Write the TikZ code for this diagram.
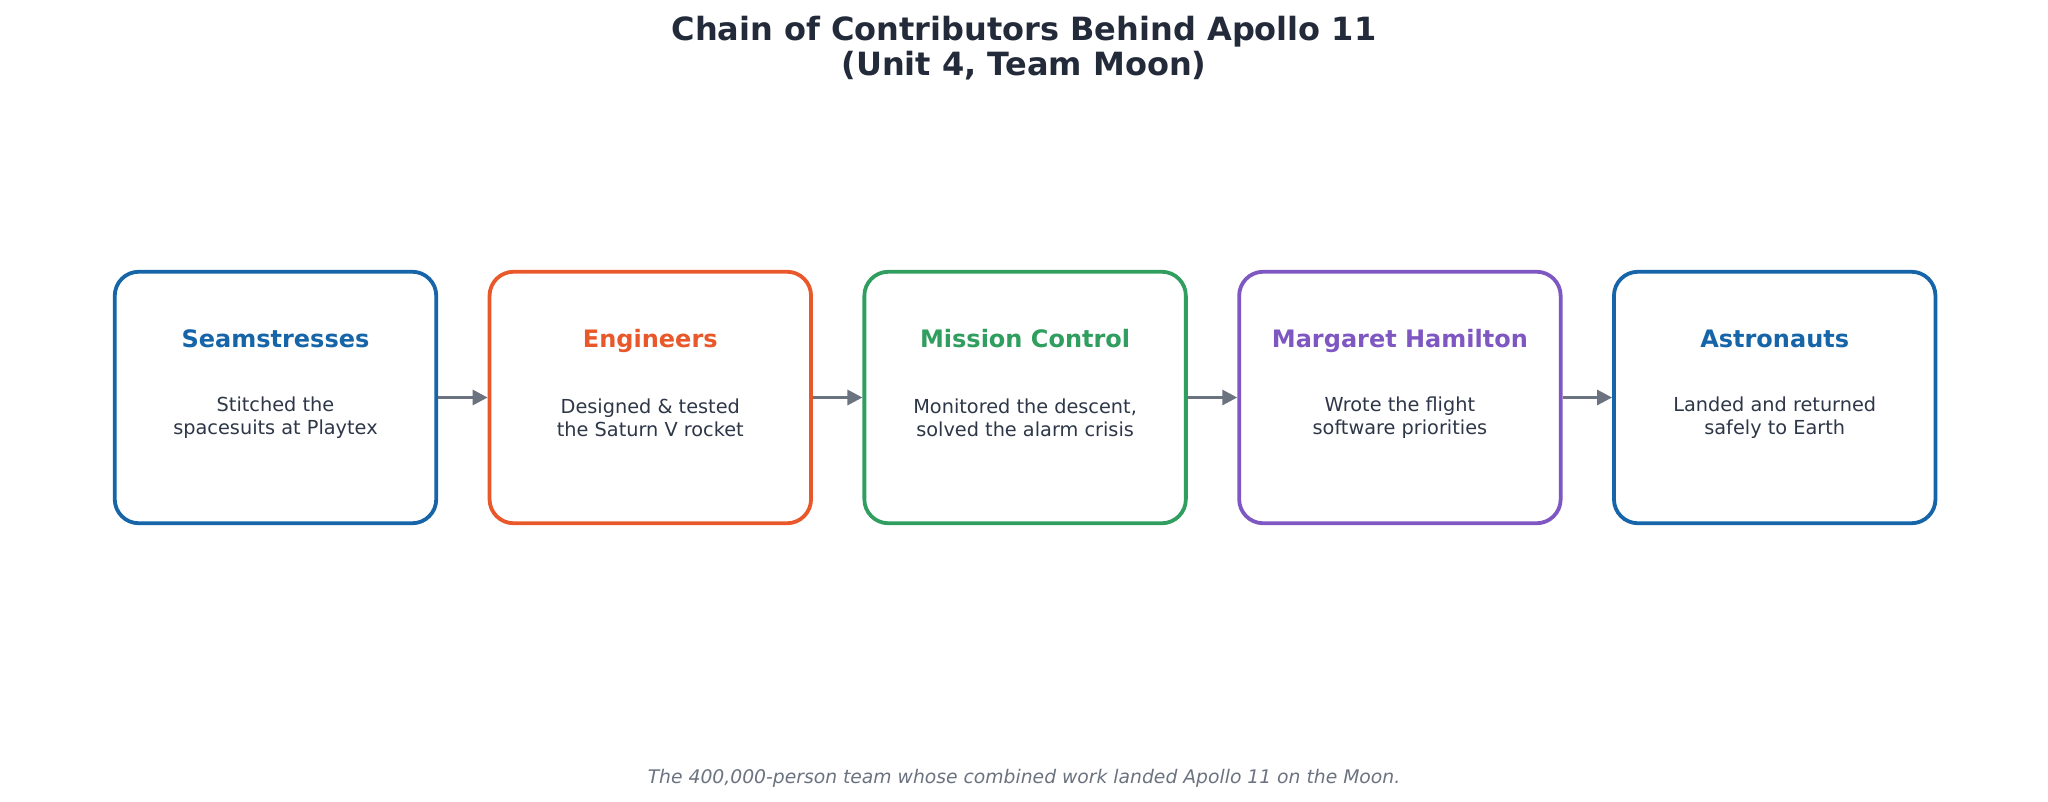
\documentclass[tikz,border=0pt]{standalone}
\usepackage{fontspec}
\setmainfont{DejaVu Sans}
\usetikzlibrary{positioning,arrows.meta}
\definecolor{myblue}{HTML}{1565A8}
\definecolor{myorange}{HTML}{E8582A}
\definecolor{mygreen}{HTML}{2F9E5F}
\definecolor{mypurple}{HTML}{7E57C2}
\definecolor{mytext}{HTML}{2D3748}
\definecolor{mytitle}{HTML}{232B3A}
\definecolor{mygray}{HTML}{6B7280}

\begin{document}
\begin{tikzpicture}[x=1pt,y=1pt,
  cbox/.style={draw=#1,line width=3.8pt,rounded corners=24pt,
    minimum width=321.5pt,minimum height=251.5pt,fill=white},
  chead/.style={text=#1,font=\bfseries\fontsize{24}{29}\selectfont,
    text height=18pt,text depth=5pt},
  cbody/.style={text=mytext,align=center,font=\fontsize{19.3}{23}\selectfont},
  carrow/.style={draw=mygray,line width=3pt,-{Triangle[length=15pt,width=15pt]}}]

  \useasboundingbox (0,0) rectangle (2048,-801);

  % title and caption
  \node[font=\bfseries\fontsize{32}{35}\selectfont,text=mytitle,align=center] (title) at (1024,-48.5)
    {Chain of Contributors Behind Apollo 11\\(Unit 4, Team Moon)};
  \node[font=\itshape\fontsize{18.75}{22}\selectfont,text=mygray] (caption) at (1024,-778)
    {The 400,000-person team whose combined work landed Apollo 11 on the Moon.};

  % the five boxes
  \node[cbox=myblue] (seam) at (275.5,-397.5) {};
  \node[cbox=myorange,right=49.5pt of seam] (eng) {};
  \node[cbox=mygreen,right=49.5pt of eng] (mission) {};
  \node[cbox=mypurple,right=49.5pt of mission] (hamilton) {};
  \node[cbox=myblue,right=49.5pt of hamilton] (astro) {};

  % headings
  \node[chead=myblue] (seamhead) at ([yshift=-71pt]seam.north) {Seamstresses};
  \node[chead=myorange] (enghead) at ([yshift=-71pt]eng.north) {Engineers};
  \node[chead=mygreen] (missionhead) at ([yshift=-71pt]mission.north) {Mission Control};
  \node[chead=mypurple] (hamiltonhead) at ([yshift=-71pt]hamilton.north) {Margaret Hamilton};
  \node[chead=myblue] (astrohead) at ([yshift=-71pt]astro.north) {Astronauts};

  % descriptions
  \node[cbody] (seamtext) at ([yshift=-20pt]seam.center) {Stitched the\\spacesuits at Playtex};
  \node[cbody] (engtext) at ([yshift=-20pt]eng.center) {Designed \& tested\\the Saturn V rocket};
  \node[cbody] (missiontext) at ([yshift=-20pt]mission.center) {Monitored the descent,\\solved the alarm crisis};
  \node[cbody] (hamiltontext) at ([yshift=-20pt]hamilton.center) {Wrote the flight\\software priorities};
  \node[cbody] (astrotext) at ([yshift=-20pt]astro.center) {Landed and returned\\safely to Earth};

  % arrows
  \draw[carrow] (seam) -- (eng);
  \draw[carrow] (eng) -- (mission);
  \draw[carrow] (mission) -- (hamilton);
  \draw[carrow] (hamilton) -- (astro);
\end{tikzpicture}
\end{document}
